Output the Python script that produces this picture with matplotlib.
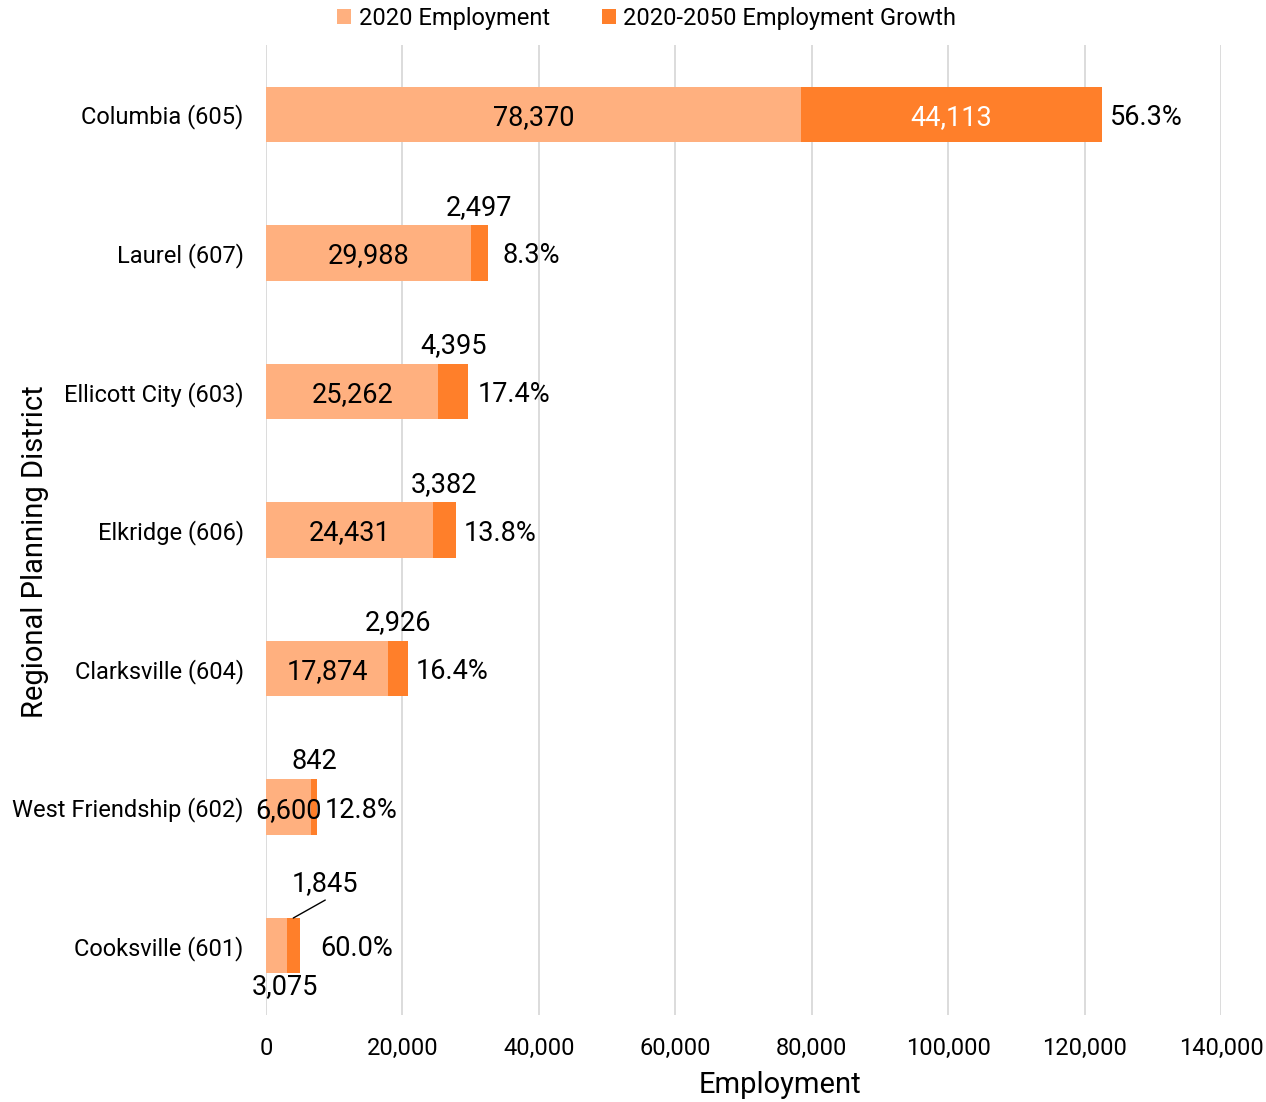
import matplotlib
matplotlib.use("Agg")
import matplotlib.pyplot as plt
import numpy as np

# Howard County employment by regional planning district
districts = ["Cooksville (601)", "West Friendship (602)", "Clarksville (604)",
             "Elkridge (606)", "Ellicott City (603)", "Laurel (607)", "Columbia (605)"]
emp_2020 = [3075, 6600, 17874, 24431, 25262, 29988, 78370]
growth = [1845, 842, 2926, 3382, 4395, 2497, 44113]

# extra gap (px) between bar end and the % label
pct_gap = [21, 8, 8, 8, 9, 15, 8]

LIGHT = "#FFB07F"
DARK = "#FF7F2A"

plt.rcParams["font.family"] = ["Roboto", "DejaVu Sans"]
plt.rcParams["font.size"] = 17
LBL = 19.5  # data label size

fig = plt.figure(figsize=(12.66, 11.02), dpi=100)
ax = fig.add_axes([0.2101, 0.0789, 0.7544, 0.8803])

y = np.arange(len(districts))
base = np.array(emp_2020)
grow = np.array(growth)
h = 0.40

ax.barh(y, base, height=h, color=LIGHT, label="2020 Employment", zorder=2)
ax.barh(y, grow, left=base, height=h, color=DARK,
        label="2020-2050 Employment Growth", zorder=2)

VA = "center_baseline"
for i in range(len(y)):
    b, g = base[i], grow[i]
    pct = g / b * 100
    total = b + g
    # base value
    if i == 0:
        ax.annotate(f"{b:,}", (b / 2, y[i]), xytext=(8, -38), textcoords="offset pixels",
                    ha="center", va=VA, fontsize=LBL)
    else:
        ax.text(b / 2, y[i], f"{b:,}", ha="center", va=VA, zorder=3, fontsize=LBL)
    # growth value
    if i == len(y) - 1:
        ax.text(b + g / 2, y[i], f"{g:,}", ha="center", va=VA, color="white", zorder=3,
                fontsize=LBL)
    elif i == 0:
        top = (b + g / 2, y[i] + h / 2)
        ax.annotate(f"{g:,}", top, xytext=(32, 37), textcoords="offset pixels",
                    ha="center", va=VA, fontsize=LBL)
        ax.annotate("", top, xytext=(32, 18), textcoords="offset pixels",
                    arrowprops=dict(arrowstyle="-", color="black", lw=1,
                                    shrinkA=0, shrinkB=0))
    else:
        ax.annotate(f"{g:,}", (b + g / 2, y[i] + h / 2), xytext=(0, 21),
                    textcoords="offset pixels", ha="center", va=VA, fontsize=LBL)
    # growth share
    ax.annotate(f"{pct:.1f}%", (total, y[i]), xytext=(pct_gap[i], 0),
                textcoords="offset pixels", ha="left", va=VA, fontsize=LBL)

ax.set_xlim(0, 140000)
ax.set_ylim(-0.5, 6.5)
ax.set_xticks(np.arange(0, 140001, 20000))
ax.xaxis.set_major_formatter(matplotlib.ticker.FuncFormatter(lambda v, p: f"{int(v):,}"))
ax.set_yticks(y)
ax.set_yticklabels(districts)
ax.tick_params(axis="both", length=0)
ax.tick_params(axis="y", pad=16)
ax.tick_params(axis="x", pad=16)
ax.grid(axis="x", color="#D9D9D9", lw=1.3, zorder=0)
ax.set_axisbelow(True)
for s in ax.spines.values():
    s.set_visible(False)

ax.set_xlabel("Employment", fontsize=21, va="center")
ax.xaxis.set_label_coords(0.538, -0.072)
ax.set_ylabel("Regional Planning District", fontsize=21, va="center")
ax.yaxis.set_label_coords(-0.2416, 0.478)

fig.legend(loc="upper center", bbox_to_anchor=(0.5107, 1.013), ncol=2, frameon=False,
           handlelength=0.6, handleheight=0.6, handletextpad=0.3, columnspacing=2.2,
           fontsize=17)

fig.savefig("out.png", dpi=100)
